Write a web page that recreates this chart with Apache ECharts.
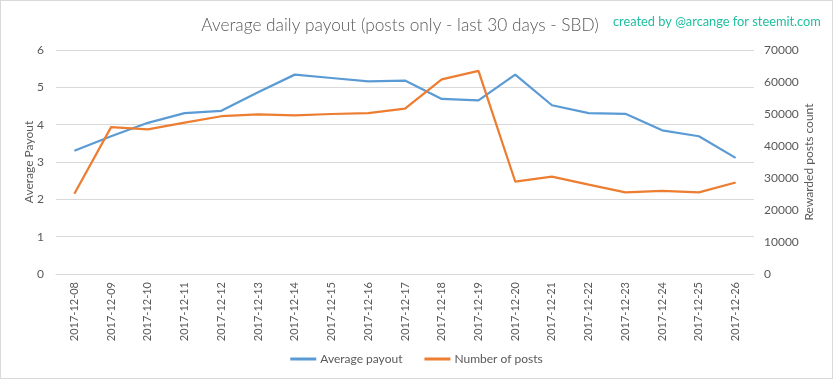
<!DOCTYPE html>
<html>
<head>
<meta charset="utf-8">
<script src="https://cdn.jsdelivr.net/npm/echarts@6/dist/echarts.min.js"></script>
<style>
html,body{margin:0;padding:0;background:#fff;}
#c{width:831px;height:377px;border:1px solid #d9d9d9;}
</style>
</head>
<body>
<div id="c"></div>
<script>
const categories = ["2017-12-08","2017-12-09","2017-12-10","2017-12-11","2017-12-12","2017-12-13","2017-12-14","2017-12-15","2017-12-16","2017-12-17","2017-12-18","2017-12-19","2017-12-20","2017-12-21","2017-12-22","2017-12-23","2017-12-24","2017-12-25","2017-12-26"];
const averagePayout = [3.30,3.69,4.05,4.31,4.37,4.87,5.34,5.25,5.16,5.18,4.69,4.65,5.34,4.52,4.31,4.29,3.85,3.69,3.11];
const numberOfPosts = [25100,45900,45200,47300,49300,49900,49600,50000,50300,51700,60800,63500,28900,30400,27900,25500,26000,25500,28600];
const leftTicks = {min:0,max:6,interval:1};
const rightTicks = {min:0,max:70000,interval:10000};

const FONT = 'Lato, "Liberation Sans", sans-serif';
const TXT = '#595959';
const chart = echarts.init(document.getElementById('c'));
chart.setOption({
  animation:false,
  textStyle:{fontFamily:FONT},
  title:[{
    text:'Average daily payout (posts only - last 30 days - SBD)',
    left:394, top:11, textAlign:'center',
    textStyle:{fontFamily:FONT,fontWeight:300,fontSize:17.3,color:TXT}
  },{
    text:'created by @arcange for steemit.com',
    left:607, top:9,
    textStyle:{fontFamily:FONT,fontWeight:'normal',fontSize:12.8,color:'#1fbf9f'}
  }],
  legend:{
    bottom:8, left:'center',
    itemWidth:26, itemHeight:3, itemGap:22,
    icon:'rect',
    textStyle:{color:TXT,fontSize:12,fontFamily:FONT,padding:[0,0,0,-1]},
    data:['Average payout','Number of posts']
  },
  grid:{left:55,right:78,top:49,bottom:104},
  xAxis:{
    type:'category', data:categories, boundaryGap:true,
    axisLine:{lineStyle:{color:'#d9d9d9'}},
    axisTick:{show:false},
    axisLabel:{rotate:90,color:TXT,fontSize:11,margin:8,fontFamily:FONT}
  },
  yAxis:[{
    type:'value', min:leftTicks.min, max:leftTicks.max, interval:leftTicks.interval,
    name:'Average Payout', nameLocation:'middle', nameGap:21, nameMoveOverlap:false,
    nameTextStyle:{color:TXT,fontSize:12,fontFamily:FONT},
    axisLine:{show:false}, axisTick:{show:false},
    axisLabel:{color:TXT,fontSize:12,margin:12},
    splitLine:{lineStyle:{color:'#d9d9d9',width:1}}
  },{
    type:'value', min:rightTicks.min, max:rightTicks.max, interval:rightTicks.interval,
    name:'Rewarded posts count', nameLocation:'middle', nameGap:49, nameMoveOverlap:false,
    nameTextStyle:{color:TXT,fontSize:12,fontFamily:FONT},
    axisLine:{show:false}, axisTick:{show:false},
    axisLabel:{color:TXT,fontSize:12,margin:10,formatter:function(v){return String(v);}},
    splitLine:{show:false}
  }],
  series:[{
    name:'Average payout', type:'line', yAxisIndex:0, data:averagePayout,
    symbol:'none', lineStyle:{color:'#5B9BD5',width:2.25}, itemStyle:{color:'#5B9BD5'}
  },{
    name:'Number of posts', type:'line', yAxisIndex:1, data:numberOfPosts,
    symbol:'none', lineStyle:{color:'#ED7D31',width:2.25}, itemStyle:{color:'#ED7D31'}
  }]
});
</script>
</body>
</html>
